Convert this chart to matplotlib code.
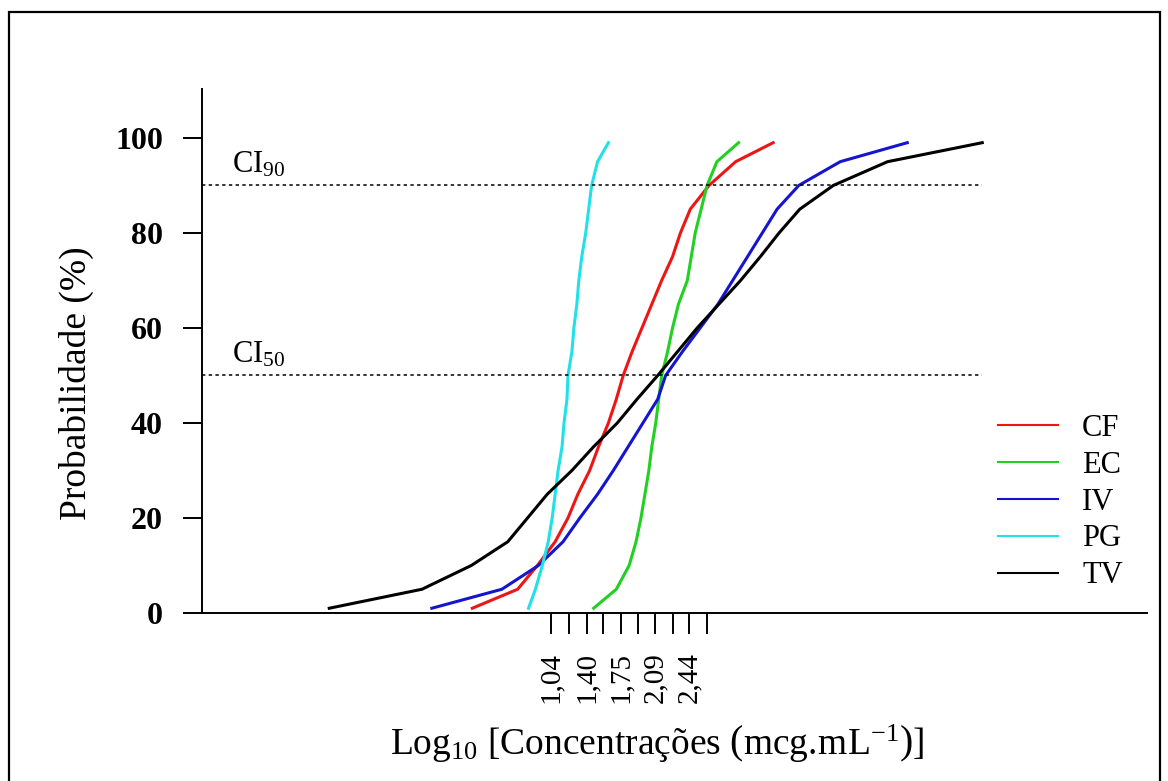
import matplotlib
matplotlib.use("Agg")
import matplotlib.pyplot as plt
from matplotlib.patches import Rectangle

plt.rcParams['font.family'] = ['Liberation Serif', 'DejaVu Serif']
plt.rcParams['mathtext.fontset'] = 'custom'
plt.rcParams['mathtext.rm'] = 'Liberation Serif'
plt.rcParams['mathtext.it'] = 'Liberation Serif:italic'
plt.rcParams['mathtext.bf'] = 'Liberation Serif:bold'

# niveis de probabilidade (%)
probs = [1, 5, 10, 15, 20, 25, 30, 35, 40, 45, 50, 55, 60, 65, 70, 75, 80, 85, 90, 95, 99]

# log10 da concentracao para cada especie
cf = [0.24, 0.70, 0.90, 1.08, 1.21, 1.31, 1.43, 1.52, 1.62, 1.70, 1.77, 1.86, 1.96, 2.06,
      2.16, 2.27, 2.35, 2.45, 2.64, 2.91, 3.29]
ec = [1.47, 1.70, 1.83, 1.90, 1.95, 1.99, 2.03, 2.06, 2.10, 2.13, 2.16, 2.22, 2.27, 2.33,
      2.42, 2.46, 2.50, 2.56, 2.62, 2.72, 2.94]
iv = [-0.17, 0.54, 0.91, 1.16, 1.33, 1.51, 1.67, 1.82, 1.97, 2.12, 2.20, 2.37, 2.55, 2.73,
      2.88, 3.03, 3.18, 3.33, 3.55, 3.97, 4.65]
pg = [0.81, 0.88, 0.95, 1.01, 1.05, 1.08, 1.11, 1.15, 1.17, 1.20, 1.21, 1.25, 1.27, 1.30,
      1.32, 1.35, 1.39, 1.42, 1.45, 1.51, 1.62]
tv = [-1.21, -0.27, 0.23, 0.60, 0.80, 1.00, 1.25, 1.47, 1.71, 1.91, 2.12, 2.32, 2.52, 2.74,
      2.96, 3.16, 3.35, 3.56, 3.90, 4.45, 5.41]

series = {"CF": cf, "EC": ec, "IV": iv, "PG": pg, "TV": tv}
cores = {"CF": "#ee1515", "EC": "#22d022", "IV": "#1515d0", "PG": "#22e0e8", "TV": "black"}

xticks = [1.04, 1.22, 1.40, 1.57, 1.75, 1.92, 2.09, 2.27, 2.44, 2.62]
xlabels = ["1,04", "", "1,40", "", "1,75", "", "2,09", "", "2,44", ""]
yticks = [0, 20, 40, 60, 80, 100]
ci_niveis = [90, 50]

fig = plt.figure(figsize=(11.68, 7.81), dpi=100)
ax = fig.add_axes([202 / 1168, 1 - 613 / 781, (1147 - 202) / 1168, (613 - 89) / 781])

for nome, xs in series.items():
    ax.plot(xs, probs, color=cores[nome], lw=2.2, label=nome, solid_joinstyle='round')

# linhas CI
for nivel in ci_niveis:
    ax.hlines(nivel, -2.5, max(tv), colors='black', linestyles=(0, (2.2, 2.2)), lw=1.1)
    ax.text(-2.20, nivel + 2.8, r'CI$_{\mathrm{%d}}$' % nivel, fontsize=22, va='baseline')

ax.set_xlim(-2.5, 7.08)
ax.set_ylim(0, 110.3)
ax.spines['top'].set_visible(False)
ax.spines['right'].set_visible(False)
ax.spines['left'].set_linewidth(1.4)
ax.spines['bottom'].set_linewidth(1.4)

ax.set_yticks(yticks)
ax.set_yticklabels([str(v) for v in yticks], fontweight='bold', fontsize=23)
ax.tick_params(axis='y', length=14, width=1.4, pad=14)
ax.set_xticks(xticks)
ax.set_xticklabels(xlabels, rotation=90, fontsize=21)
ax.tick_params(axis='x', length=15, width=1.4, pad=13)

fig.text(76 / 1168, 1 - 383 / 781, 'Probabilidade (%)', rotation=90, fontsize=27,
         ha='center', va='center')
fig.text(657 / 1168, 1 - 755 / 781,
         r'Log$_{\mathrm{10}}$ [Concentrações $\left(\mathrm{mcg.\!mL}^{-1}\right)$]',
         fontsize=27, ha='center', va='baseline')

leg = ax.legend(loc='center left', bbox_to_anchor=(998 / 1168, 1 - 502 / 781),
                bbox_transform=fig.transFigure, frameon=False, fontsize=22,
                handlelength=1.95, handletextpad=0.8, labelspacing=0.26,
                borderpad=0, borderaxespad=0)
for linha in leg.get_lines():
    linha.set_linewidth(1.5)

# moldura externa
fig.patches.append(Rectangle((9 / 1168, -0.05), (1160 - 9) / 1168, 1.05 - 12 / 781,
                             transform=fig.transFigure, fill=False, lw=1.6,
                             edgecolor='black'))

fig.savefig('out.png', dpi=100)
